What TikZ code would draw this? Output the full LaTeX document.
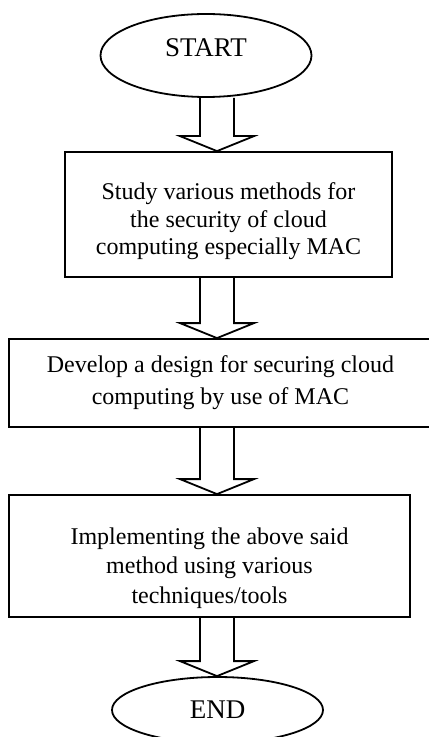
\documentclass[tikz,border=0pt]{standalone}
\usepackage{fontspec}
\setmainfont{Liberation Serif}
\usetikzlibrary{shapes.geometric,calc}

% hollow block arrow between two nodes, on the common axis
\newcommand{\blockarrow}[2]{%
  \draw[flow] let \p1=(#1.south -| axis), \p2=(#2.north -| axis) in
    (\x1-8.5pt,\y1) -- (\x1-8.5pt,\y2+7.5pt) -- (\x1-18.5pt,\y2+7.5pt) -- (\x2,\y2)
    -- (\x1+18.5pt,\y2+7.5pt) -- (\x1+8.5pt,\y2+7.5pt) -- (\x1+8.5pt,\y1);}
% centred lines, moved down by #1 without changing the box size
\newcommand{\boxtext}[3][1]{%
  \raisebox{-#2}[\height][\depth]{\renewcommand{\arraystretch}{#1}%
    \begin{tabular}{@{}c@{}}#3\end{tabular}}}

\begin{document}
\begin{tikzpicture}[x=0.5pt,y=-0.5pt,
  font=\fontsize{12}{14.5}\selectfont,
  term/.style={draw,ellipse,line width=0.9pt,inner sep=0pt,fill=white,
    font=\fontsize{13.5}{16}\selectfont},
  stepbox/.style={draw,rectangle,line width=0.9pt,align=center,inner sep=0pt},
  flow/.style={line width=0.9pt,line join=miter}]
\useasboundingbox (0,0) rectangle (428,737);
\coordinate (axis) at (217,0);
\node[term,minimum width=105.5pt,minimum height=41.5pt] (start) at (206,55.5)
  {\boxtext{-2.5pt}{START}};
\node[stepbox,minimum width=163.5pt,minimum height=62.5pt] (study) at (228.5,214.5)
  {\boxtext[0.95]{3.5pt}{Study various methods for\\the security of cloud\\computing especially MAC}};
\node[stepbox,minimum width=211.5pt,minimum height=44pt] (design) at (220.5,383)
  {\boxtext[1.1]{-0.5pt}{Develop a design for securing cloud\\computing by use of MAC}};
\node[stepbox,minimum width=200.5pt,minimum height=61pt] (impl) at (209.5,556)
  {\boxtext[1.02]{6pt}{Implementing the above said\\method using various\\techniques/tools}};
\node[term,minimum width=105.5pt,minimum height=33pt] (end) at (217.5,710) {END};
\blockarrow{start}{study}
\blockarrow{study}{design}
\blockarrow{design}{impl}
\blockarrow{impl}{end}
\end{tikzpicture}
\end{document}
